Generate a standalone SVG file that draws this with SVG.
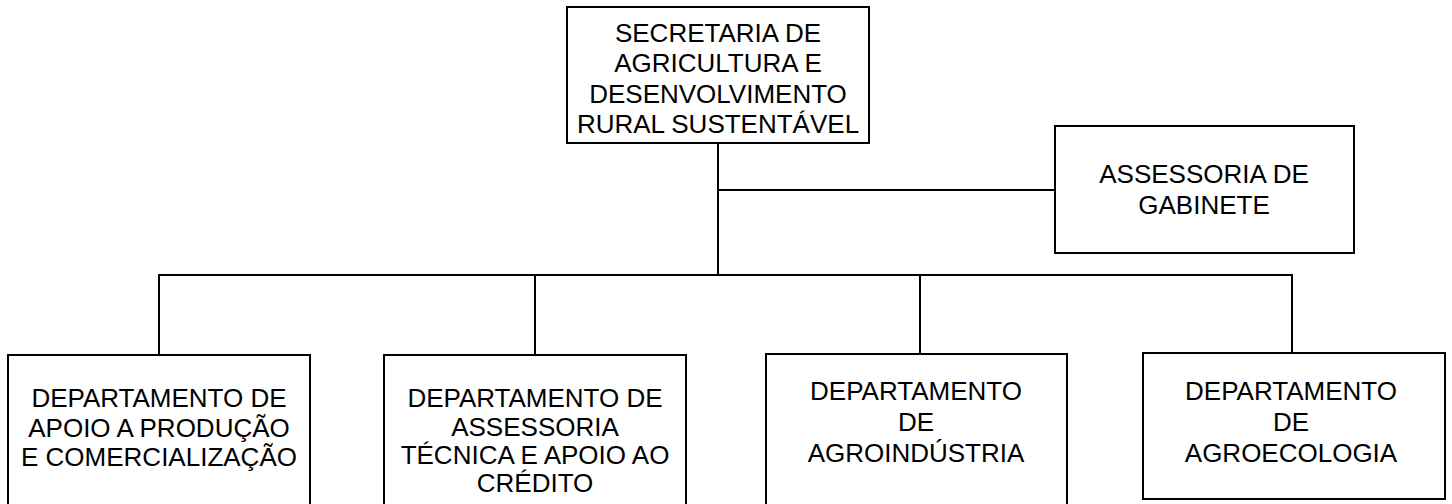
<svg xmlns="http://www.w3.org/2000/svg" width="1452" height="504" viewBox="0 0 1452 504">
<style>
.box{fill:#fff;stroke:#000;stroke-width:2}
.ln{stroke:#000;stroke-width:2;fill:none}
text{font-family:"Liberation Sans",Arial,sans-serif;font-size:26px;fill:#000;text-anchor:middle}
</style>
<rect width="1452" height="504" fill="#fff"/>
<g id="connectors">
<line class="ln" x1="718" y1="143" x2="718" y2="275"/>
<line class="ln" x1="718" y1="190" x2="1055" y2="190"/>
<line class="ln" x1="158" y1="275" x2="1293" y2="275"/>
<line class="ln" x1="159" y1="275" x2="159" y2="355"/>
<line class="ln" x1="535" y1="275" x2="535" y2="355"/>
<line class="ln" x1="920" y1="275" x2="920" y2="354"/>
<line class="ln" x1="1292" y1="275" x2="1292" y2="353"/>
</g>
<g id="secretaria">
<rect class="box" x="567" y="7" width="302" height="136"/>
<text x="718" y="41.5">SECRETARIA DE</text>
<text x="718" y="72">AGRICULTURA E</text>
<text x="718" y="102.5">DESENVOLVIMENTO</text>
<text x="718" y="133">RURAL SUSTENTÁVEL</text>
</g>
<g id="assessoria">
<rect class="box" x="1055" y="126" width="299" height="127"/>
<text x="1204" y="183">ASSESSORIA DE</text>
<text x="1204" y="214">GABINETE</text>
</g>
<g id="dep-producao">
<rect class="box" x="8" y="355" width="302" height="152"/>
<text x="159" y="407">DEPARTAMENTO DE</text>
<text x="159" y="437">APOIO A PRODUÇÃO</text>
<text x="159" y="466">E COMERCIALIZAÇÃO</text>
</g>
<g id="dep-assessoria">
<rect class="box" x="384" y="355" width="302" height="152"/>
<text x="535" y="407">DEPARTAMENTO DE</text>
<text x="535" y="435.5">ASSESSORIA</text>
<text x="535" y="464">TÉCNICA E APOIO AO</text>
<text x="535" y="492">CRÉDITO</text>
</g>
<g id="dep-agroindustria">
<rect class="box" x="766" y="354" width="301" height="153"/>
<text x="916" y="400">DEPARTAMENTO</text>
<text x="916" y="430.5">DE</text>
<text x="916" y="461.5">AGROINDÚSTRIA</text>
</g>
<g id="dep-agroecologia">
<rect class="box" x="1143" y="353" width="302" height="146"/>
<text x="1291" y="400">DEPARTAMENTO</text>
<text x="1291" y="430.5">DE</text>
<text x="1291" y="461.5">AGROECOLOGIA</text>
</g>
</svg>
